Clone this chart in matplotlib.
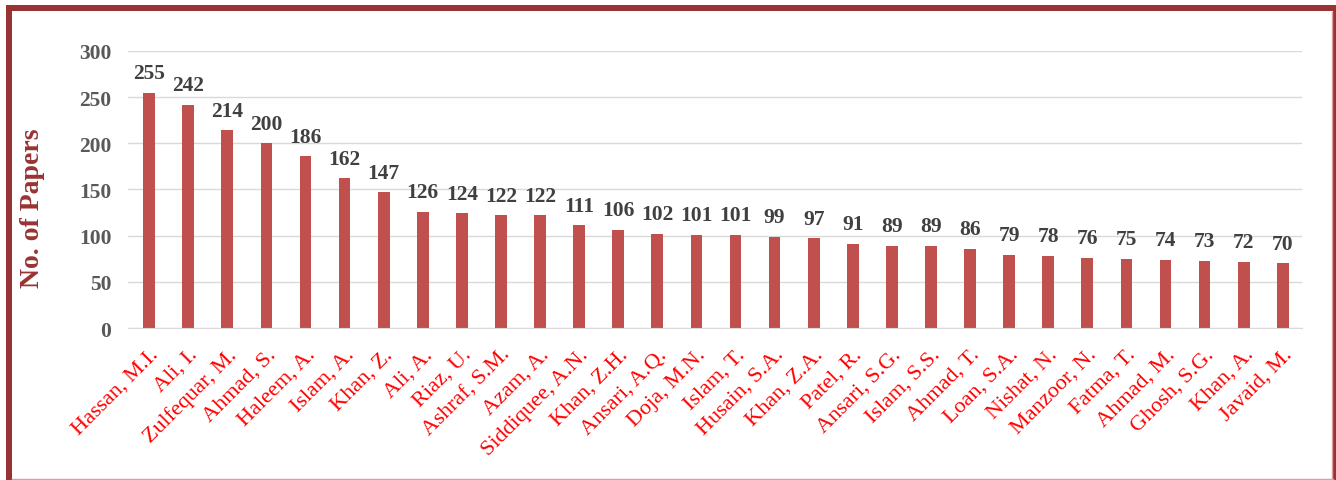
import matplotlib
matplotlib.use("Agg")
import matplotlib.pyplot as plt
from matplotlib.patches import Rectangle
from matplotlib.lines import Line2D

authors = ["Hassan, M.I.", "Ali, I.", "Zulfequar, M.", "Ahmad, S.", "Haleem, A.",
           "Islam, A.", "Khan, Z.", "Ali, A.", "Riaz, U.", "Ashraf, S.M.",
           "Azam, A.", "Siddiquee, A.N.", "Khan, Z.H.", "Ansari, A.Q.", "Doja, M.N.",
           "Islam, T.", "Husain, S.A.", "Khan, Z.A.", "Patel, R.", "Ansari, S.G.",
           "Islam, S.S.", "Ahmad, T.", "Loan, S.A.", "Nishat, N.", "Manzoor, N.",
           "Fatma, T.", "Ahmad, M.", "Ghosh, S.G.", "Khan, A.", "Javaid, M."]
papers = [255, 242, 214, 200, 186, 162, 147, 126, 124, 122,
          122, 111, 106, 102, 101, 101, 99, 97, 91, 89,
          89, 86, 79, 78, 76, 75, 74, 73, 72, 70]
yticks = [0, 50, 100, 150, 200, 250, 300]

plt.rcParams['font.family'] = ['Liberation Serif', 'DejaVu Serif']

fig = plt.figure(figsize=(13.36, 4.81), dpi=100)
ax = fig.add_axes([0.0958, 0.316, 0.879, 0.576])

x = list(range(len(authors)))
ax.bar(x, papers, width=0.30, color='#C0504D', zorder=3)
for xi, v in zip(x, papers):
    ax.annotate(str(v), (xi, v), xytext=(0, 7), textcoords='offset points',
                ha='center', va='bottom', fontsize=15.5, fontweight='bold',
                color='#404040')

ax.set_ylim(0, 300)
ax.set_xlim(-0.54, len(authors) - 0.5)
ax.set_yticks(yticks)
ax.set_yticklabels([str(t) for t in yticks], fontsize=15.5, fontweight='bold', color='#595959')
ax.set_xticks(x)
ax.set_xticklabels(authors, rotation=45, ha='right', rotation_mode='anchor',
                   fontsize=16, color='#FF0000')
ax.tick_params(axis='both', length=0)
ax.tick_params(axis='y', pad=12)
ax.tick_params(axis='x', pad=12)
ax.grid(axis='y', color='#D9D9D9', linewidth=1, zorder=0)
for s in ['top', 'right', 'left']:
    ax.spines[s].set_visible(False)
ax.spines['bottom'].set_color('#D9D9D9')
ax.spines['bottom'].set_zorder(4)

fig.text(0.0243, 0.5676, "No. of Papers", rotation=90, ha='center', va='center',
         fontsize=20, fontweight='bold', color='#993333')

# border
W, H = 1336, 481
def fx(px): return px / W
def fy(py): return 1 - py / H
fig.add_artist(Rectangle((fx(6), fy(12)), fx(1330), 6 / H, transform=fig.transFigure,
                         color='#993333', lw=0))
fig.add_artist(Rectangle((fx(6), fy(481)), 6 / W, fy(12) - fy(481), transform=fig.transFigure,
                         color='#993333', lw=0))
fig.add_artist(Rectangle((fx(1333), fy(481)), 3 / W, fy(12) - fy(481), transform=fig.transFigure,
                         color='#993333', lw=0))
fig.add_artist(Line2D([fx(12), fx(1333)], [fy(479.5), fy(479.5)], transform=fig.transFigure,
                      color='#D9A0A0', lw=1))
fig.add_artist(Line2D([fx(1331.5), fx(1331.5)], [fy(13), fy(480)], transform=fig.transFigure,
                      color='#D9A0A0', lw=1))

fig.savefig("out.png", dpi=100)
